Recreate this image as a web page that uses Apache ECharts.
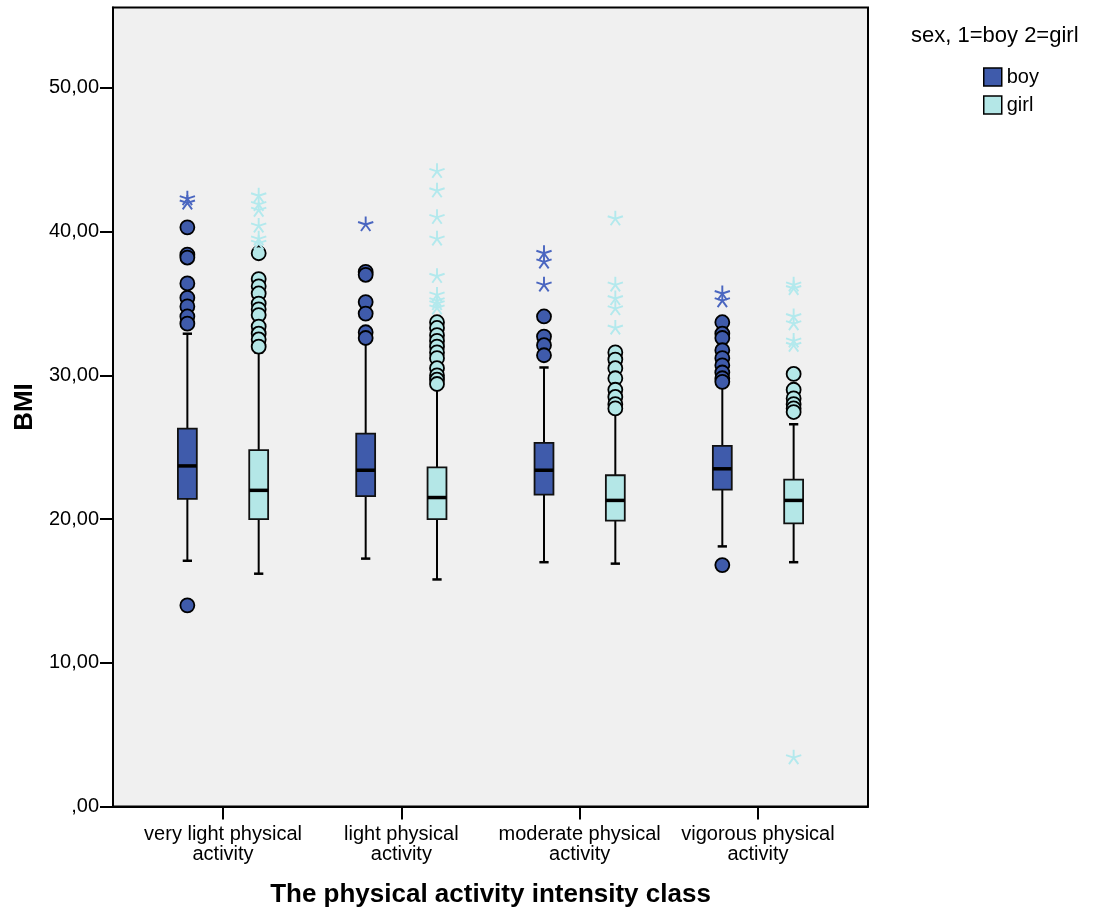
<!DOCTYPE html>
<html>
<head>
<meta charset="utf-8">
<script src="https://cdn.jsdelivr.net/npm/echarts@6/dist/echarts.min.js"></script>
<style>html,body{margin:0;padding:0;background:#fff;}#main{width:1116px;height:917px;}</style>
</head>
<body>
<div id="main"></div>
<script>
// ---------------- data ----------------
const categories = ['very light physical\nactivity', 'light physical\nactivity', 'moderate physical\nactivity', 'vigorous physical\nactivity'];
const yTicks = [0, 10, 20, 30, 40, 50];
const yTickLabels = [',00', '10,00', '20,00', '30,00', '40,00', '50,00'];

// [lower whisker, Q1, median, Q3, upper whisker]
const boyBoxes = [
  [17.1, 21.4, 23.7, 26.3, 32.9],
  [17.25, 21.6, 23.4, 25.95, 32.3],
  [17.0, 21.7, 23.4, 25.3, 30.55],
  [18.1, 22.05, 23.5, 25.1, 29.4]
];
const girlBoxes = [
  [16.2, 20.0, 22.0, 24.8, 31.6],
  [15.8, 20.0, 21.5, 23.6, 29.2],
  [16.9, 19.9, 21.3, 23.05, 27.5],
  [17.0, 19.7, 21.3, 22.75, 26.6]
];
// outliers (circles)
const boyOutliers = [
  [40.3, 38.4, 38.2, 36.4, 35.4, 34.8, 34.1, 33.6, 14.0],
  [37.2, 37.0, 35.1, 34.3, 33.0, 32.6],
  [34.1, 32.7, 32.1, 31.4],
  [33.7, 32.9, 32.6, 31.75, 31.2, 30.7, 30.2, 29.8, 29.55, 16.8]
];
const girlOutliers = [
  [38.5, 36.7, 36.2, 35.7, 35.0, 34.6, 34.2, 33.4, 32.9, 32.5, 32.0],
  [33.7, 33.3, 32.8, 32.4, 32.0, 31.6, 31.2, 30.5, 30.0, 29.7, 29.4],
  [31.6, 31.1, 30.5, 29.8, 29.0, 28.5, 28.0, 27.7],
  [30.1, 29.0, 28.4, 28.0, 27.7, 27.45]
];
// extreme values (stars)
const boyExtremes = [
  [42.3, 42.0],
  [40.5],
  [38.5, 37.9, 36.3],
  [35.7, 35.2]
];
const girlExtremes = [
  [42.5, 41.9, 41.5, 40.4, 39.5, 39.2],
  [44.2, 42.85, 41.0, 39.5, 36.9, 35.6, 35.2, 35.0, 34.7],
  [40.9, 36.3, 35.35, 34.65, 33.3],
  [36.3, 36.05, 34.1, 33.6, 32.4, 32.1, 3.4]
];

// ---------------- styling ----------------
const BOY = '#3f5bab', GIRL = '#b4e7e7';
const BOY_STAR = '#4a66c0', GIRL_STAR = '#b3e9ed';
const OFFSET = 0.2, BOX_HALF = 0.053, CAP_HALF = 0.026;
const FONT = '"Liberation Sans", Arial, sans-serif';

function asteriskPath() {
  let d = '';
  const w = 6, r = 50;
  for (let k = 0; k < 5; k++) {
    const a = (-90 + 72 * k) * Math.PI / 180;
    const ux = Math.cos(a), uy = Math.sin(a);
    const px = -uy * w, py = ux * w;
    const ex = 50 + ux * r, ey = 50 + uy * r;
    const pts = [[50 + px, 50 + py], [ex + px, ey + py], [ex - px, ey - py], [50 - px, 50 - py]];
    d += 'M' + pts.map(p => p[0].toFixed(2) + ' ' + p[1].toFixed(2)).join(' L') + ' Z ';
  }
  // tiny marks so the bounding box is centred on the star
  d += 'M0 50 L0.01 50 L0 50.01 Z M100 50 L99.99 50 L100 50.01 Z M50 100 L50.01 100 L50 99.99 Z';
  return 'path://' + d;
}
const STAR = asteriskPath();

function boxRenderer(offset) {
  return function (params, api) {
    const x = api.value(0) + offset;
    const pLow = api.coord([x, api.value(1)]);
    const pQ1 = api.coord([x, api.value(2)]);
    const pMed = api.coord([x, api.value(3)]);
    const pQ3 = api.coord([x, api.value(4)]);
    const pHigh = api.coord([x, api.value(5)]);
    const half = api.size([BOX_HALF, 0])[0];
    const cap = api.size([CAP_HALF, 0])[0];
    const cx = pMed[0];
    const ls = { stroke: '#000', lineWidth: 2 };
    return {
      type: 'group',
      children: [
        { type: 'line', shape: { x1: cx, y1: pHigh[1], x2: cx, y2: pQ3[1] }, style: ls },
        { type: 'line', shape: { x1: cx, y1: pQ1[1], x2: cx, y2: pLow[1] }, style: ls },
        { type: 'line', shape: { x1: cx - cap, y1: pHigh[1], x2: cx + cap, y2: pHigh[1] }, style: { stroke: '#000', lineWidth: 2.5 } },
        { type: 'line', shape: { x1: cx - cap, y1: pLow[1], x2: cx + cap, y2: pLow[1] }, style: { stroke: '#000', lineWidth: 2.5 } },
        { type: 'rect', shape: { x: cx - half, y: pQ3[1], width: half * 2, height: pQ1[1] - pQ3[1] },
          style: { fill: api.visual('color'), stroke: '#111', lineWidth: 1.8 } },
        { type: 'line', shape: { x1: cx - half, y1: pMed[1], x2: cx + half, y2: pMed[1] }, style: { stroke: '#000', lineWidth: 3.5 } }
      ]
    };
  };
}

function points(arr, offset) {
  const out = [];
  arr.forEach((vals, i) => vals.forEach(v => out.push([i + offset, v])));
  return out;
}

const chart = echarts.init(document.getElementById('main'));
chart.setOption({
  animation: false,
  backgroundColor: '#fff',
  textStyle: { fontFamily: FONT },
  grid: { left: 113, right: 248, top: 7.5, bottom: 110.5, show: true, backgroundColor: '#f0f0f0', borderColor: '#000', borderWidth: 2 },
  legend: {
    orient: 'vertical', left: 978, top: 62, itemWidth: 18, itemHeight: 18, itemGap: 8,
    textStyle: { fontSize: 20, color: '#000', fontFamily: FONT },
    selectedMode: false,
    data: [
      { name: 'boy', icon: 'rect', itemStyle: { color: BOY, borderColor: '#000', borderWidth: 1.5 } },
      { name: 'girl', icon: 'rect', itemStyle: { color: GIRL, borderColor: '#000', borderWidth: 1.5 } }
    ]
  },
  graphic: [{
    type: 'text', left: 911, top: 25,
    style: { text: 'sex, 1=boy 2=girl', font: '22px ' + FONT, fill: '#000' }
  }],
  xAxis: {
    type: 'value', min: -0.617, max: 3.617,
    name: 'The physical activity intensity class', nameLocation: 'middle', nameGap: 75,
    nameTextStyle: { fontSize: 26, fontWeight: 'bold', color: '#000', fontFamily: FONT },
    axisLine: { show: true, onZero: false, lineStyle: { color: '#000', width: 2 } },
    axisTick: { show: true, length: 13, lineStyle: { color: '#000', width: 2 }, customValues: [0, 1, 2, 3] },
    axisLabel: { customValues: [0, 1, 2, 3], formatter: v => categories[Math.round(v)], fontSize: 20, lineHeight: 20, color: '#000', margin: 18 },
    splitLine: { show: false }
  },
  yAxis: {
    type: 'value', min: 0, max: 55.6,
    name: 'BMI', nameLocation: 'middle', nameGap: 74, nameRotate: 90,
    nameTextStyle: { fontSize: 26, fontWeight: 'bold', color: '#000', fontFamily: FONT },
    axisLine: { show: true, onZero: false, lineStyle: { color: '#000', width: 2 } },
    axisTick: { show: true, length: 13, lineStyle: { color: '#000', width: 2 }, customValues: yTicks },
    axisLabel: { customValues: yTicks, formatter: v => yTickLabels[yTicks.indexOf(Math.round(v))], fontSize: 20, color: '#000', margin: 14 },
    splitLine: { show: false }
  },
  series: [
    { name: 'boy', type: 'custom', renderItem: boxRenderer(-OFFSET), itemStyle: { color: BOY },
      encode: { x: 0, y: [1, 2, 3, 4, 5] }, data: boyBoxes.map((b, i) => [i, ...b]), z: 2 },
    { name: 'girl', type: 'custom', renderItem: boxRenderer(OFFSET), itemStyle: { color: GIRL },
      encode: { x: 0, y: [1, 2, 3, 4, 5] }, data: girlBoxes.map((b, i) => [i, ...b]), z: 2 },
    { name: 'boy outliers', type: 'scatter', symbol: 'circle', symbolSize: 14,
      itemStyle: { color: BOY, borderColor: '#000', borderWidth: 1.8, opacity: 1 }, data: points(boyOutliers, -OFFSET), z: 3 },
    { name: 'girl outliers', type: 'scatter', symbol: 'circle', symbolSize: 14,
      itemStyle: { color: GIRL, borderColor: '#000', borderWidth: 1.8, opacity: 1 }, data: points(girlOutliers, OFFSET), z: 3 },
    { name: 'boy extremes', type: 'scatter', symbol: STAR, symbolSize: 16, symbolKeepAspect: true,
      itemStyle: { color: BOY_STAR, opacity: 1 }, data: points(boyExtremes, -OFFSET), z: 3 },
    { name: 'girl extremes', type: 'scatter', symbol: STAR, symbolSize: 16, symbolKeepAspect: true,
      itemStyle: { color: GIRL_STAR, opacity: 1 }, data: points(girlExtremes, OFFSET), z: 3 }
  ]
});
</script>
</body>
</html>
